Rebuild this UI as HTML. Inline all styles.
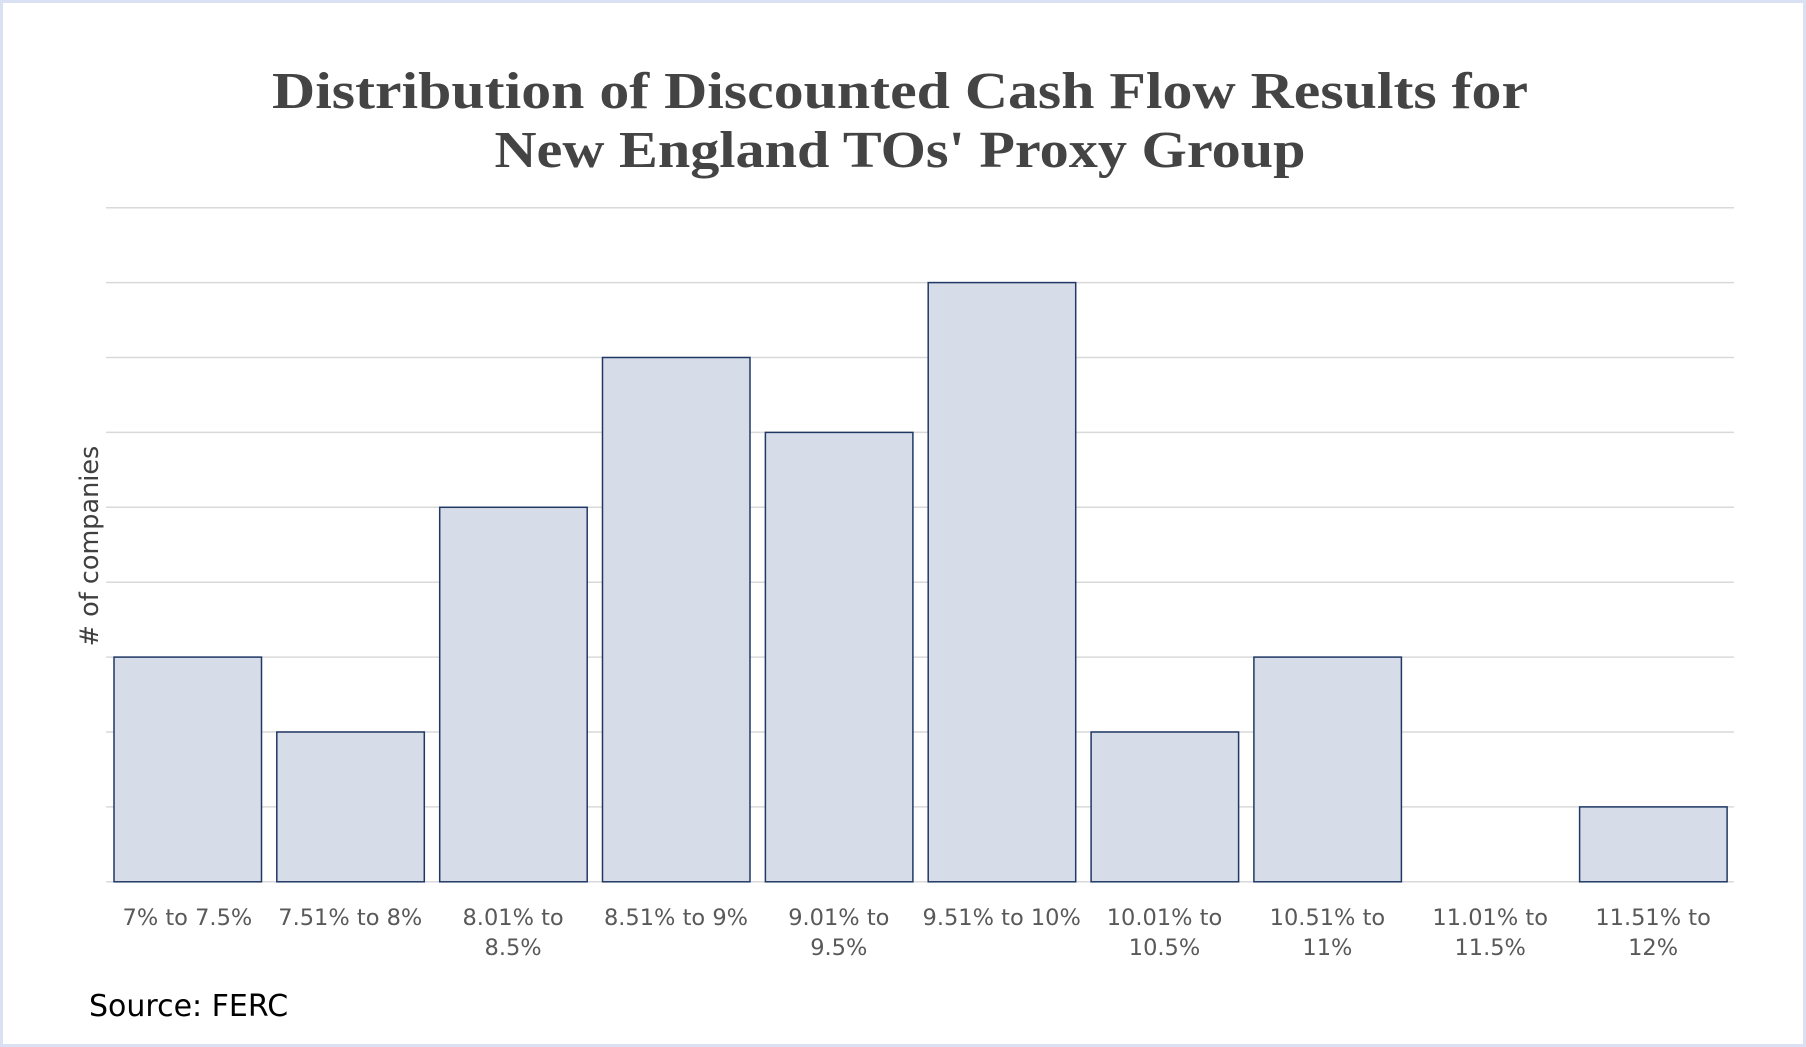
<!DOCTYPE html>
<html><head><meta charset="utf-8"><style>
html,body{margin:0;padding:0;background:#fff;}
svg{display:block;}
</style></head><body>
<svg width="1806" height="1047" xmlns="http://www.w3.org/2000/svg">
<rect x="1.5" y="1.5" width="1803" height="1044" fill="#fff" stroke="#d9e1f2" stroke-width="3"/>
<g font-family="'Liberation Serif',serif" font-weight="bold" fill="#444" font-size="52" text-anchor="middle">
<text x="900" y="108" textLength="1256" lengthAdjust="spacingAndGlyphs">Distribution of Discounted Cash Flow Results for</text>
<text x="900" y="167" textLength="811" lengthAdjust="spacingAndGlyphs">New England TOs' Proxy Group</text>
</g>
<g stroke="#d9d9d9" stroke-width="1.5">
<line x1="106" x2="1734" y1="207.7" y2="207.7"/>
<line x1="106" x2="1734" y1="282.6" y2="282.6"/>
<line x1="106" x2="1734" y1="357.5" y2="357.5"/>
<line x1="106" x2="1734" y1="432.4" y2="432.4"/>
<line x1="106" x2="1734" y1="507.3" y2="507.3"/>
<line x1="106" x2="1734" y1="582.2" y2="582.2"/>
<line x1="106" x2="1734" y1="657.1" y2="657.1"/>
<line x1="106" x2="1734" y1="732" y2="732"/>
<line x1="106" x2="1734" y1="806.9" y2="806.9"/>
<line x1="106" x2="1734" y1="881.8" y2="881.8"/>
</g>
<g fill="#d6dde9" stroke="#203864" stroke-width="1.5">
<rect x="114" y="657.1" width="147.5" height="224.7"/>
<rect x="276.8" y="732" width="147.5" height="149.8"/>
<rect x="439.7" y="507.3" width="147.5" height="374.5"/>
<rect x="602.5" y="357.5" width="147.5" height="524.3"/>
<rect x="765.4" y="432.4" width="147.5" height="449.4"/>
<rect x="928.2" y="282.6" width="147.5" height="599.2"/>
<rect x="1091.1" y="732" width="147.5" height="149.8"/>
<rect x="1253.9" y="657.1" width="147.5" height="224.7"/>
<rect x="1579.6" y="806.9" width="147.5" height="74.9"/>
</g>
<g font-family="'DejaVu Sans',sans-serif" font-size="22.5" fill="#595959" text-anchor="middle">
<text x="187.4" y="925">7% to 7.5%</text>
<text x="350.3" y="925">7.51% to 8%</text>
<text x="513.1" y="925">8.01% to</text><text x="513.1" y="955">8.5%</text>
<text x="676" y="925">8.51% to 9%</text>
<text x="838.8" y="925">9.01% to</text><text x="838.8" y="955">9.5%</text>
<text x="1001.7" y="925">9.51% to 10%</text>
<text x="1164.5" y="925">10.01% to</text><text x="1164.5" y="955">10.5%</text>
<text x="1327.4" y="925">10.51% to</text><text x="1327.4" y="955">11%</text>
<text x="1490.2" y="925">11.01% to</text><text x="1490.2" y="955">11.5%</text>
<text x="1653.1" y="925">11.51% to</text><text x="1653.1" y="955">12%</text>
</g>
<text transform="translate(98,546) rotate(-90)" font-family="'DejaVu Sans',sans-serif" font-size="25.5" fill="#404040" text-anchor="middle">#  of companies</text>
<text x="89" y="1016" font-family="'DejaVu Sans',sans-serif" font-size="30" fill="#000">Source: FERC</text>
</svg>
</body></html>
